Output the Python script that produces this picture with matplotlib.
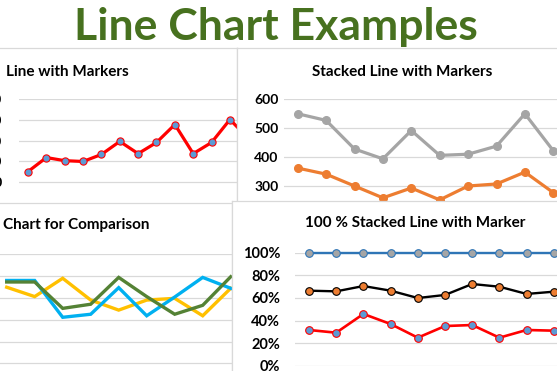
import matplotlib
matplotlib.use('Agg')
import matplotlib.pyplot as plt
import numpy as np

W, H = 557, 371
plt.rcParams['font.family'] = ['Lato', 'DejaVu Sans']

# ---------------- data ----------------
main_title = "Line Chart Examples"

tl_title = "Line with Markers"
tl_values = [150, 218, 203, 199, 233, 296, 237, 291, 378, 237, 291, 402, 311]
tl_ticks = [100, 200, 300, 400, 500]

tr_title = "Stacked Line with Markers"
tr_series_a = [362, 341, 300, 259, 293, 252, 300, 307, 348, 277]
tr_series_b = [188, 186, 128, 135, 199, 154, 110, 131, 202, 145]
tr_ticks = [300, 400, 500, 600]

bl_title = "Chart for Comparison"
bl_blue = [48.0, 48.0, 31.1, 32.5, 44.7, 31.8, 40.4, 49.4, 44.4]
bl_yellow = [44.9, 40.6, 49.0, 39.0, 34.4, 39.0, 39.8, 31.8, 44.4]
bl_green = [47.3, 47.3, 35.2, 37.1, 49.4, 40.6, 32.5, 36.6, 49.7]
bl_ticks = [10, 20, 30, 40, 50, 60]

br_title = "100 % Stacked Line with Marker"
br_s1 = [31.6, 29.2, 45.8, 36.9, 24.8, 35.1, 36.0, 24.8, 31.6, 31.0]
br_s2 = [34.8, 36.6, 24.7, 29.5, 35.1, 27.5, 36.3, 45.1, 31.9, 34.5]
br_s3 = [33.6, 34.2, 29.5, 33.6, 40.1, 37.4, 27.7, 30.1, 36.5, 34.5]
br_ticks = [0, 0.2, 0.4, 0.6, 0.8, 1.0]
br_ticklabels = ["0%", "20%", "40%", "60%", "80%", "100%"]

GRID = '#D9D9D9'

fig = plt.figure(figsize=(W / 100, H / 100), dpi=100)
fig.patch.set_facecolor('white')


def box(x0, y0, x1, y1):
    return [x0 / W, 1 - y1 / H, (x1 - x0) / W, (y1 - y0) / H]


def panel(x0, y0, x1, y1):
    ax = fig.add_axes(box(x0, y0, x1, y1))
    ax.set_facecolor('white')
    ax.set_xticks([])
    ax.set_yticks([])
    for s in ax.spines.values():
        s.set_color(GRID)
        s.set_linewidth(0.9)
    return ax


def plot_axes(x0, y0, x1, y1, ticks, labels=None, pad=3, fs=10):
    ax = fig.add_axes(box(x0, y0, x1, y1))
    ax.patch.set_alpha(0)
    for s in ax.spines.values():
        s.set_visible(False)
    ax.set_xticks([])
    ax.set_yticks(ticks)
    if labels is not None:
        ax.set_yticklabels(labels)
    ax.tick_params(axis='y', length=0, pad=pad, labelsize=fs)
    for t in ax.get_yticklabels():
        t.set_fontweight('bold')
    ax.yaxis.grid(True, color=GRID, linewidth=0.9)
    ax.set_axisbelow(True)
    return ax


# main title
fig.text(276 / W, 1 - 40 / H, main_title, ha='center', va='baseline',
         fontsize=32, fontweight='bold', color='#47711F')

# ---------- top-left ----------
panel(-60, 48, 237, 300)
fig.text(6 / W, 1 - 75.7 / H, tl_title, ha='left', va='baseline',
         fontsize=11, fontweight='bold', color='black')
ax = plot_axes(18.8, 99.3, 237, 202.6, tl_ticks, pad=12)
x = np.arange(len(tl_values))
ax.plot(x, tl_values, color='#FF0000', lw=2.3, marker='o', ms=5.2,
        mfc='#5B9BD5', mec='#FF0000', mew=0.8)
ax.set_xlim(-0.5, -0.5 + (237 - 18.8) / 18.36)
ax.set_ylim(0, 500)

# ---------- top-right ----------
panel(237, 48, 640, 300)
fig.text(401.7 / W, 1 - 75.7 / H, tr_title, ha='center', va='baseline',
         fontsize=11, fontweight='bold', color='black')
ax = plot_axes(283.5, 99.3, 567.5, 272.7, tr_ticks, pad=3.5)
a = np.array(tr_series_a)
b = a + np.array(tr_series_b)
x = np.arange(len(a))
ax.plot(x, a, color='#ED7D31', lw=2.3, marker='o', ms=5.5,
        mfc='#ED7D31', mec='#ED7D31')
ax.plot(x, b, color='#A5A5A5', lw=2.3, marker='o', ms=5.5,
        mfc='#A5A5A5', mec='#A5A5A5')
ax.set_xlim(-0.5, len(a) - 0.5)
ax.set_ylim(0, 600)

# ---------- bottom-left ----------
panel(-60, 203, 232, 420)
fig.text(3 / W, 1 - 229.3 / H, bl_title, ha='left', va='baseline',
         fontsize=11, fontweight='bold', color='black')
ax = plot_axes(-7.3, 254.3, 232, 385.1, bl_ticks, labels=[''] * len(bl_ticks), pad=3)
x = np.arange(len(bl_blue))
ax.plot(x, bl_yellow, color='#FFC000', lw=2.4, solid_joinstyle='miter')
ax.plot(x, bl_blue, color='#00B0F0', lw=2.4, solid_joinstyle='miter')
ax.plot(x, bl_green, color='#548235', lw=2.4, solid_joinstyle='miter')
ax.set_xlim(-0.5, -0.5 + (232 + 7.3) / 28.0)
ax.set_ylim(0, 60)

# ---------- bottom-right ----------
panel(232, 201, 640, 420)
fig.text(415.5 / W, 1 - 226.7 / H, br_title, ha='center', va='baseline',
         fontsize=11, fontweight='bold', color='black')
ax = plot_axes(295.4, 252.7, 570, 365.7, br_ticks, br_ticklabels, pad=11, fs=10.5)
s1 = np.array(br_s1)
s2 = np.array(br_s2)
s3 = np.array(br_s3)
tot = s1 + s2 + s3
c1 = s1 / tot
c2 = (s1 + s2) / tot
c3 = (s1 + s2 + s3) / tot
x = np.arange(len(s1))
ax.plot(x, c3, color='#2E75B6', lw=1.7, marker='o', ms=5.5,
        mfc='#A5A5A5', mec='#2E75B6', mew=0.8, clip_on=False)
ax.plot(x, c2, color='#000000', lw=1.7, marker='o', ms=5.5,
        mfc='#ED7D31', mec='#000000', mew=0.8)
ax.plot(x, c1, color='#FF0000', lw=1.9, marker='o', ms=5.5,
        mfc='#5B9BD5', mec='#FF0000', mew=0.8)
ax.set_xlim(-0.5, -0.5 + (570 - 295.4) / 27.2)
ax.set_ylim(0, 1)

fig.savefig('out.png', dpi=100, facecolor='white')
